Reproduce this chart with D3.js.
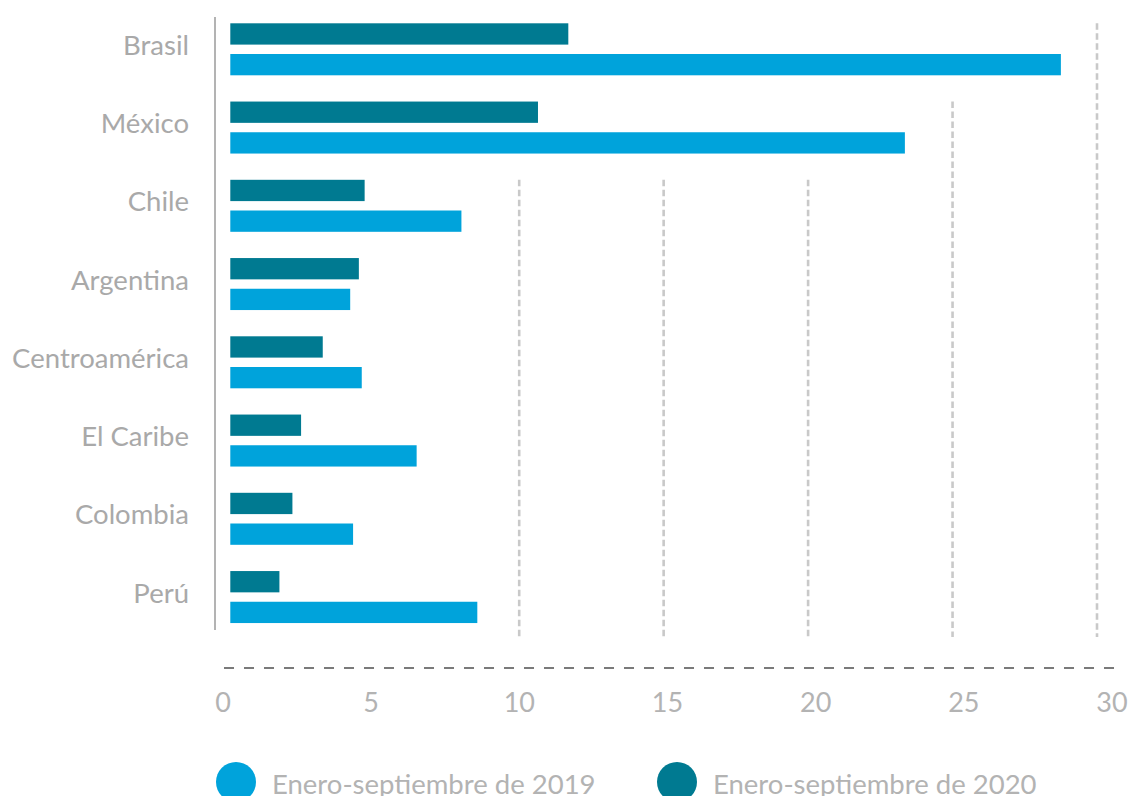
<!DOCTYPE html>
<html>
<head>
<meta charset="utf-8">
<script src="https://cdn.jsdelivr.net/npm/d3@7/dist/d3.min.js"></script>
<style>
    html, body { margin: 0; padding: 0; background: #fff; overflow: hidden; }
    svg { display: block; font-family: Lato, "Open Sans", sans-serif; }
</style>
</head>
<body>
<svg id="chart" width="1130" height="796"></svg>
<script>
/*global d3*/
(function () {
    "use strict";
    var categories = ["Brasil", "México", "Chile", "Argentina", "Centroamérica", "El Caribe", "Colombia", "Perú"],
        values2020 = [11.7, 10.65, 4.65, 4.45, 3.2, 2.45, 2.15, 1.7],
        values2019 = [28.75, 23.35, 8.0, 4.15, 4.55, 6.45, 4.25, 8.55],
        ticks = [0, 5, 10, 15, 20, 25, 30],
        seriesNames = ["Enero-septiembre de 2019", "Enero-septiembre de 2020"],
        colors = {s2019: "#00a3db", s2020: "#007a91"};

    var svg = d3.select("#chart");
    var x = d3.scaleLinear().domain([0, 30]).range([230.3, 1097]),
        xLabel = d3.scaleLinear().domain([0, 30]).range([223, 1112]),
        y = d3.scaleBand().domain(categories).range([23.3, 649.3]),
        barH = 21.3,
        barGap = 30.7;

    // gridlines: each one starts below the last row whose bars cross it,
    // a line crossed by the bottom row is not drawn at all
    var lastCrossing = function (t) {
        var last = -1;
        categories.forEach(function (c, i) {
            if (Math.max(values2019[i], values2020[i]) > t) {
                last = i;
            }
        });
        return last;
    };
    var gridTicks = ticks.filter(function (t) {
        return t > 0 && lastCrossing(t) < categories.length - 1;
    });
    svg.append("g").selectAll("line")
        .data(gridTicks)
        .enter().append("line")
        .attr("x1", function (d) { return x(d); })
        .attr("x2", function (d) { return x(d); })
        .attr("y1", function (d) { return y(categories[lastCrossing(d) + 1]); })
        .attr("y2", 637)
        .attr("stroke", "#c9c9c9")
        .attr("stroke-width", 2.6)
        .attr("stroke-dasharray", "6.5,3.5");

    // left axis line
    svg.append("line")
        .attr("x1", 215).attr("x2", 215)
        .attr("y1", 17).attr("y2", 630)
        .attr("stroke", "#9a9a9a")
        .attr("stroke-width", 1.5);

    // bars
    var rows = svg.append("g").selectAll("g")
        .data(categories)
        .enter().append("g");
    rows.append("rect")
        .attr("x", x(0))
        .attr("y", function (d) { return y(d); })
        .attr("width", function (d, i) { return x(values2020[i]) - x(0); })
        .attr("height", barH)
        .attr("fill", colors.s2020);
    rows.append("rect")
        .attr("x", x(0))
        .attr("y", function (d) { return y(d) + barGap; })
        .attr("width", function (d, i) { return x(values2019[i]) - x(0); })
        .attr("height", barH)
        .attr("fill", colors.s2019);
    rows.append("text")
        .attr("x", 189)
        .attr("y", function (d) { return y(d) + 31.5; })
        .attr("text-anchor", "end")
        .attr("font-size", 27.5)
        .attr("fill", "#a9a9a9")
        .text(function (d) { return d; });

    // bottom axis
    svg.append("line")
        .attr("x1", 224).attr("x2", 1115)
        .attr("y1", 668).attr("y2", 668)
        .attr("stroke", "#7a7a7a")
        .attr("stroke-width", 1.8)
        .attr("stroke-dasharray", "10,10");
    svg.append("g").selectAll("text")
        .data(ticks)
        .enter().append("text")
        .attr("x", function (d) { return xLabel(d); })
        .attr("y", 712)
        .attr("text-anchor", "middle")
        .attr("font-size", 27)
        .attr("fill", "#b3b3b3")
        .text(function (d) { return d; });

    // legend
    var legend = svg.append("g").selectAll("g")
        .data(seriesNames)
        .enter().append("g")
        .attr("transform", function (d, i) { return "translate(" + (i === 0 ? 236 : 677) + ",782)"; });
    legend.append("circle")
        .attr("r", 20)
        .attr("fill", function (d, i) { return i === 0 ? colors.s2019 : colors.s2020; });
    legend.append("text")
        .attr("x", 36)
        .attr("y", 12)
        .attr("font-size", 27.5)
        .attr("fill", "#b3b3b3")
        .text(function (d) { return d; });
}());
</script>
</body>
</html>
